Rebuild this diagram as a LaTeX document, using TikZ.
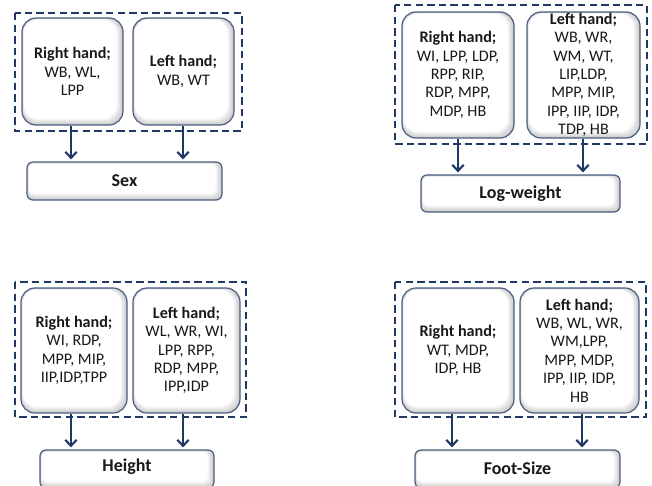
\documentclass[tikz,border=0pt]{standalone}
\usepackage{fontspec}
\setmainfont{Carlito}
\usetikzlibrary{arrows.meta,calc}

\definecolor{navy}{HTML}{203864}
\definecolor{boxline}{HTML}{4A5F80}

\tikzset{
  x=0.75pt, y=-0.75pt,
  % soft inner shadow along the lower right edges of a rounded box
  ishade/.style={path picture={
    \foreach \k in {1,...,7}{
      \fill[black!70, opacity=0.045, even odd rule]
        ([shift={(-30,-30)}]path picture bounding box.north west) rectangle
        ([shift={(30,30)}]path picture bounding box.south east)
        [rounded corners=#1]
        ([shift={(0.25*\k,0.25*\k)}]path picture bounding box.north west) rectangle
        ([shift={(-0.9*\k,-0.9*\k)}]path picture bounding box.south east);
    }}},
  wh/.style 2 args={minimum width=#1*0.75pt, minimum height=#2*0.75pt},
  hand/.style={draw=boxline, line width=0.9pt, fill=white, rounded corners=10.5pt,
    ishade=10.5pt, inner sep=0pt, align=center, text=black!90,
    font=\fontsize{12.1}{13.75}\selectfont},
  outcome/.style={draw=boxline, line width=0.9pt, fill=white, rounded corners=4.5pt,
    ishade=4.5pt, inner sep=0pt, text=black!90,
    font=\fontsize{13.5}{15}\selectfont\bfseries},
  group/.style={draw=navy, line width=1.5pt, dash pattern=on 5.5pt off 3.2pt},
  arr/.style={draw=navy, line width=1.6pt, shorten >=1.5pt,
    -{Straight Barb[length=4.5pt,width=8.5pt]}},
}

\begin{document}
\begin{tikzpicture}
\useasboundingbox (0,0) rectangle (652,485);
\clip (0,0) rectangle (652,485);

% ---------- Sex ----------
\draw[group] (15,13) rectangle (242,131);
\node[hand, wh={101}{107}] (sR) at (72.5,71.5) {\textbf{Right hand;}\\WB, WL,\\LPP};
\node[hand, wh={101}{107}] (sL) at (183.5,71.5) {\textbf{Left hand;}\\WB, WT};
\node[outcome, wh={195}{38}] (sex) at (124.5,181) {Sex};
\draw[arr] ([xshift=-1.1pt]sR.south) -- ([xshift=-1.1pt]sR.south |- sex.north);
\draw[arr] ([xshift=-0.4pt]sL.south) -- ([xshift=-0.4pt]sL.south |- sex.north);

% ---------- Log-weight ----------
\draw[group] (395,5) rectangle (647,144);
\node[hand, wh={112}{126}] (wR) at (458,75)
  {\textbf{Right hand;}\\WI, LPP, LDP,\\RPP, RIP,\\RDP, MPP,\\MDP, HB};
\node[hand, wh={113}{126}] (wL) at (583.5,75)
  {\textbf{Left hand;}\\WB, WR,\\WM, WT,\\LIP,LDP,\\MPP, MIP,\\IPP, IIP, IDP,\\TDP, HB};
\node[outcome, wh={199}{37}] (logw) at (520.5,193.5) {Log-weight};
\draw[arr] (wR.south) -- (wR.south |- logw.north);
\draw[arr] ([xshift=-0.4pt]wL.south) -- ([xshift=-0.4pt]wL.south |- logw.north);

% ---------- Height ----------
\draw[group] (15,282) rectangle (246,417);
\node[hand, wh={106}{125}] (hR) at (74,350.5)
  {\textbf{Right hand;}\\WI, RDP,\\MPP, MIP,\\IIP,IDP,TPP};
\node[hand, wh={107}{125}] (hL) at (186.5,350.5)
  {\textbf{Left hand;}\\WL, WR, WI,\\LPP, RPP,\\RDP, MPP,\\IPP,IDP};
\node[outcome, wh={174}{38}] (height) at (127,469) {\raisebox{6pt}{Height}};
\draw[arr] ([xshift=-2.3pt]hR.south) -- ([xshift=-2.3pt]hR.south |- height.north);
\draw[arr] ([xshift=-2.6pt]hL.south) -- ([xshift=-2.6pt]hL.south |- height.north);

% ---------- Foot-Size ----------
\draw[group] (395,282) rectangle (646,417);
\node[hand, wh={112}{125}] (fR) at (458,350.5)
  {\textbf{Right hand;}\\WT, MDP,\\IDP, HB};
\node[hand, wh={119}{125}] (fL) at (579.5,350.5)
  {\textbf{Left hand;}\\WB, WL, WR,\\WM,LPP,\\MPP, MDP,\\IPP, IIP, IDP,\\HB};
\node[outcome, wh={205}{38}] (foot) at (517.5,469) {\raisebox{1.5pt}{Foot-Size}};
\draw[arr] ([xshift=-4.5pt]fR.south) -- ([xshift=-4.5pt]fR.south |- foot.north);
\draw[arr] ([xshift=1.9pt]fL.south) -- ([xshift=1.9pt]fL.south |- foot.north);
\end{tikzpicture}
\end{document}
